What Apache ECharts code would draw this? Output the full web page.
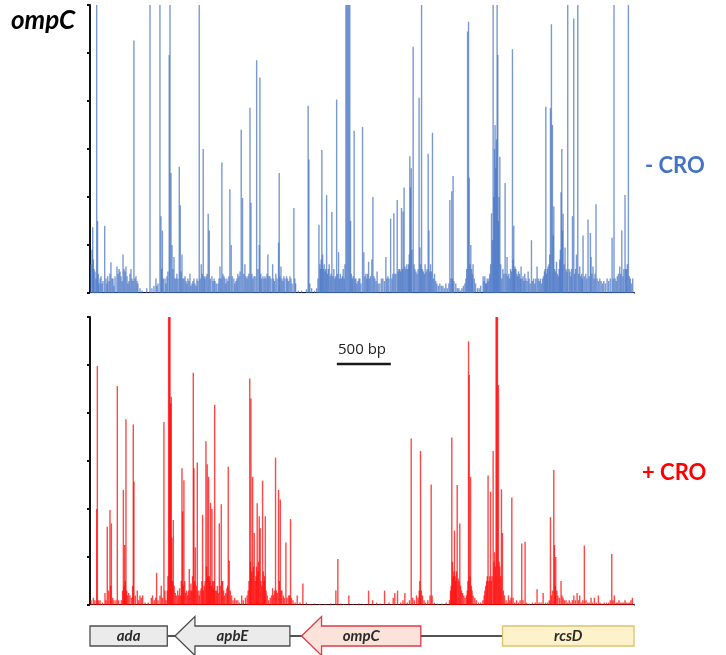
<!DOCTYPE html>
<html>
<head>
<meta charset="utf-8">
<script src="https://cdn.jsdelivr.net/npm/echarts@6/dist/echarts.min.js"></script>
<style>html,body{margin:0;padding:0;background:#fff}#c{width:726px;height:655px}</style>
</head>
<body>
<div id="c"></div>
<script>
// ---- DATA ----
// Region length (bp) and y scale (tick units)
const regionStart = 0;
const regionEnd = 5040;
const yMax = 6;
const yTicks = [0, 1, 2, 3, 4, 5, 6];

// - CRO insertion counts: [position (bp), count]
const minusCRO = [
[9,0.6],[19,0.9],[25,1.37],[31,0.7],[37,0.5],[46,0.45],[55,0.3],[62,6],[70,1.5],[76,0.4],[83,0.2],[93,0.3],[102,0.35],[111,0.2],[120,0.25],[136,1.4],[148,0.3],[157,0.2],[164,0.35],[176,0.25],[185,0.4],[194,0.64],[204,0.3],[213,0.3],[222,0.15],[232,0.35],[250,0.55],[260,0.4],[269,0.5],[278,0.45],[287,0.35],[297,0.25],[306,0.8],[315,0.5],[324,0.45],[333,0.55],[343,0.35],[352,0.2],[361,0.25],[370,0.4],[380,0.5],[389,0.3],[398,0.25],[407,5.26],[417,0.3],[426,0.35],[435,0.25],[444,0.2],[463,0.1],[482,0.05],[525,0.1],[556,6],[574,0.1],[593,0.15],[611,0.3],[620,0.15],[630,0.2],[648,6],[657,1.6],[664,0.5],[671,1.3],[680,0.3],[695,0.3],[704,0.2],[713,0.35],[722,0.45],[734,4.96],[741,6],[750,2.5],[760,1.0],[768,0.5],[778,0.75],[787,0.3],[796,0.3],[805,0.4],[815,0.3],[827,2.63],[836,1.83],[844,0.45],[852,0.8],[861,0.3],[870,0.3],[880,0.35],[889,0.25],[898,0.2],[907,0.3],[917,0.25],[926,0.4],[935,0.15],[945,0.2],[954,0.25],[963,0.3],[972,0.2],[982,0.15],[991,0.3],[1000,0.25],[1012,6],[1021,0.3],[1031,0.6],[1040,0.4],[1049,3.0],[1058,0.35],[1065,0.3],[1075,0.35],[1085,0.4],[1095,1.65],[1105,1.3],[1115,0.3],[1130,0.35],[1140,0.25],[1150,0.3],[1158,0.25],[1170,0.2],[1186,0.2],[1195,0.3],[1204,0.55],[1213,0.3],[1222,2.72],[1231,0.4],[1241,0.35],[1250,0.3],[1259,0.2],[1268,0.3],[1278,0.25],[1287,0.35],[1296,2.16],[1308,1.0],[1318,0.35],[1333,0.3],[1342,0.2],[1352,0.25],[1361,0.3],[1370,0.4],[1380,0.35],[1390,0.45],[1401,3.4],[1413,1.98],[1425,0.4],[1435,0.6],[1444,0.35],[1454,0.3],[1463,0.35],[1472,0.4],[1482,3.86],[1491,1.88],[1500,0.4],[1509,0.3],[1519,0.35],[1530,0.35],[1544,4.85],[1556,0.5],[1568,1.0],[1574,4.49],[1582,0.4],[1590,0.3],[1602,0.35],[1612,0.3],[1621,0.35],[1630,0.3],[1640,0.4],[1648,0.8],[1657,0.35],[1667,0.35],[1677,0.3],[1692,0.6],[1700,0.3],[1710,0.25],[1722,0.4],[1733,0.3],[1747,1.05],[1753,2.5],[1760,0.35],[1769,0.55],[1778,0.3],[1787,0.25],[1796,0.35],[1806,0.3],[1821,0.35],[1830,0.3],[1840,0.25],[1852,0.35],[1862,0.3],[1872,0.2],[1889,1.77],[1898,0.3],[1905,0.2],[1930,0.05],[1960,0.05],[2006,0.08],[2021,3.9],[2028,2.78],[2036,0.2],[2053,0.1],[2080,0.05],[2100,0.1],[2112,0.3],[2121,1.42],[2130,0.6],[2136,0.5],[2142,0.7],[2148,2.98],[2155,0.8],[2162,0.5],[2170,0.6],[2178,0.45],[2185,0.5],[2192,2.04],[2200,0.4],[2208,0.5],[2216,0.6],[2225,0.35],[2233,0.4],[2241,1.69],[2250,0.35],[2259,0.5],[2268,0.3],[2276,0.35],[2285,4.03],[2294,0.4],[2303,0.85],[2312,0.3],[2320,0.4],[2330,0.3],[2338,0.35],[2346,0.5],[2355,0.3],[2362,0.6],[2371,6],[2380,6],[2389,6],[2398,6],[2407,6],[2414,1.5],[2422,0.4],[2430,0.3],[2438,0.35],[2447,3.38],[2455,0.3],[2463,0.3],[2472,0.2],[2482,0.25],[2491,0.3],[2500,0.3],[2510,0.2],[2525,3.46],[2537,0.85],[2546,0.35],[2556,0.4],[2565,0.3],[2572,0.4],[2581,0.65],[2590,0.3],[2600,0.35],[2611,0.7],[2621,2.0],[2630,0.35],[2639,0.3],[2650,0.25],[2660,0.45],[2670,0.2],[2685,0.2],[2700,0.3],[2713,0.3],[2727,0.25],[2741,0.75],[2750,0.3],[2760,0.35],[2770,0.3],[2785,1.55],[2797,0.3],[2806,0.4],[2815,1.66],[2825,0.4],[2834,0.4],[2846,1.94],[2855,0.45],[2862,0.5],[2870,0.5],[2878,0.45],[2886,1.77],[2895,0.5],[2901,1.7],[2910,2.2],[2918,0.55],[2926,0.5],[2935,0.6],[2944,0.5],[2952,0.6],[2958,0.8],[2963,2.85],[2969,2.2],[2976,2.6],[2983,0.9],[2994,5.13],[3002,0.6],[3010,0.5],[3020,0.45],[3030,0.4],[3040,0.5],[3049,4.07],[3056,0.95],[3064,0.6],[3072,6],[3080,0.5],[3088,0.45],[3097,0.4],[3105,0.6],[3114,0.45],[3124,0.5],[3133,2.9],[3140,1.3],[3148,0.45],[3155,0.6],[3164,0.45],[3173,3.34],[3182,0.3],[3192,0.4],[3203,0.25],[3213,0.2],[3227,0.15],[3241,0.2],[3255,0.15],[3269,0.15],[3283,0.1],[3297,0.2],[3310,0.1],[3325,0.2],[3334,1.94],[3343,0.3],[3352,2.12],[3358,0.3],[3364,2.44],[3372,0.25],[3389,0.2],[3403,0.1],[3417,0.1],[3431,0.05],[3445,0.1],[3459,0.15],[3473,0.2],[3482,0.3],[3490,0.5],[3498,5.45],[3507,5.65],[3513,2.4],[3520,0.6],[3528,1.0],[3535,0.5],[3542,0.4],[3549,0.6],[3560,0.3],[3572,0.2],[3590,0.1],[3605,0.1],[3620,0.15],[3642,0.35],[3650,0.25],[3658,0.35],[3666,0.2],[3673,0.2],[3680,0.3],[3688,0.25],[3696,0.3],[3704,0.4],[3712,0.6],[3720,1.66],[3729,1.1],[3735,6],[3742,2.0],[3748,3.0],[3753,3.5],[3760,2.6],[3766,3.2],[3772,6],[3778,4.96],[3784,1.5],[3790,2.0],[3797,2.84],[3805,0.6],[3815,0.3],[3825,0.5],[3835,0.4],[3846,2.29],[3855,0.4],[3864,0.75],[3872,0.35],[3880,0.4],[3889,0.3],[3897,0.5],[3905,0.45],[3914,5.08],[3920,0.7],[3926,1.4],[3932,0.5],[3938,0.55],[3946,0.5],[3955,0.4],[3962,0.35],[3970,0.45],[3980,0.4],[3987,0.3],[3994,0.55],[4003,0.3],[4012,0.35],[4020,0.25],[4028,0.4],[4038,0.3],[4048,0.25],[4059,0.45],[4068,0.3],[4078,0.2],[4090,1.1],[4100,0.25],[4110,0.3],[4121,0.2],[4130,0.3],[4142,0.55],[4152,0.3],[4162,0.25],[4172,0.3],[4182,0.2],[4192,0.3],[4201,0.35],[4210,0.45],[4216,0.5],[4223,3.88],[4230,0.4],[4237,0.5],[4244,0.55],[4252,0.6],[4259,0.8],[4266,3.85],[4275,5.6],[4284,3.5],[4291,1.2],[4297,1.8],[4305,0.5],[4313,0.45],[4322,0.65],[4330,0.4],[4338,0.35],[4346,0.5],[4352,0.7],[4358,0.9],[4364,2.1],[4371,3.0],[4377,1.3],[4383,1.65],[4392,0.6],[4401,0.95],[4410,0.5],[4418,0.45],[4426,6],[4438,0.5],[4446,0.45],[4455,0.35],[4462,0.5],[4470,1.6],[4482,5.72],[4490,0.4],[4499,0.5],[4507,0.8],[4519,6],[4528,0.4],[4537,0.55],[4546,0.35],[4555,0.4],[4562,0.3],[4568,1.2],[4580,0.35],[4593,0.4],[4603,0.3],[4614,1.53],[4625,0.35],[4636,1.25],[4642,0.75],[4650,0.4],[4660,0.55],[4670,0.3],[4679,0.4],[4688,1.85],[4698,0.3],[4710,0.25],[4723,0.3],[4735,0.25],[4748,0.2],[4760,0.25],[4775,0.2],[4791,0.3],[4805,0.25],[4820,0.3],[4837,1.15],[4846,0.3],[4855,6],[4865,0.3],[4875,0.25],[4885,0.35],[4896,0.4],[4908,0.55],[4917,0.4],[4927,1.3],[4937,0.35],[4946,0.5],[4957,2.04],[4965,0.5],[4970,0.5],[4978,0.6],[4988,6],[4997,0.35],[5006,0.3],[5016,0.2],[5028,0.3]
];

// + CRO insertion counts: [position (bp), count]
const plusCRO = [
[10,0.1],[31,0.15],[45,0.1],[62,2.0],[68,4.98],[78,0.1],[93,0.1],[115,0.05],[139,0.25],[148,0.1],[160,1.63],[172,0.3],[185,1.98],[192,0.4],[198,1.7],[210,0.15],[222,0.1],[240,0.1],[253,4.56],[265,0.1],[290,0.1],[302,0.3],[309,2.4],[315,0.4],[321,1.25],[327,0.5],[333,3.87],[340,0.3],[346,0.2],[358,0.25],[370,0.2],[385,0.15],[395,0.4],[401,3.76],[407,2.57],[420,0.2],[438,0.3],[450,0.1],[463,0.2],[475,0.15],[488,0.2],[510,0.05],[540,0.05],[568,0.15],[580,0.2],[595,0.1],[608,0.15],[617,0.67],[630,0.1],[648,0.2],[660,0.4],[672,0.15],[685,3.81],[694,0.3],[704,0.1],[716,0.3],[722,0.6],[728,6],[735,6],[741,6],[747,4.2],[753,4.34],[759,1.4],[765,0.5],[772,1.77],[780,0.4],[790,0.25],[800,0.2],[812,0.3],[821,0.2],[830,0.35],[840,0.2],[846,0.5],[852,2.85],[858,1.95],[864,0.4],[870,2.6],[878,0.5],[885,0.25],[895,0.3],[905,0.2],[912,0.3],[920,0.75],[928,0.3],[935,0.45],[942,0.3],[950,0.6],[957,4.84],[963,2.85],[970,0.5],[976,1.2],[985,0.4],[994,2.97],[1002,0.3],[1012,0.2],[1020,0.3],[1030,0.35],[1037,0.5],[1043,1.88],[1050,0.3],[1058,0.4],[1066,0.5],[1074,3.41],[1080,0.8],[1086,2.93],[1093,0.6],[1099,2.67],[1105,0.6],[1111,0.5],[1117,2.13],[1124,0.4],[1130,2.0],[1137,0.5],[1143,0.35],[1149,0.5],[1155,4.17],[1163,0.3],[1173,0.3],[1180,0.4],[1188,0.25],[1198,1.7],[1206,0.4],[1216,2.1],[1222,0.5],[1229,0.5],[1238,0.3],[1247,0.2],[1258,0.25],[1268,0.35],[1275,0.4],[1281,2.88],[1290,0.92],[1300,0.3],[1312,0.2],[1325,0.1],[1340,0.15],[1355,0.1],[1370,0.1],[1385,0.05],[1405,0.2],[1420,0.1],[1440,0.15],[1455,0.2],[1465,0.3],[1473,0.5],[1480,4.72],[1487,0.9],[1491,4.3],[1498,0.7],[1507,2.67],[1514,0.8],[1522,1.5],[1530,0.5],[1537,0.6],[1543,0.8],[1549,2.12],[1556,0.7],[1562,0.9],[1568,1.85],[1577,1.6],[1584,0.5],[1592,0.4],[1599,2.59],[1606,0.7],[1612,0.5],[1618,0.6],[1624,1.85],[1632,0.3],[1642,0.2],[1655,0.1],[1670,0.15],[1682,0.2],[1692,0.35],[1700,0.2],[1710,0.3],[1719,3.07],[1726,0.3],[1735,0.25],[1747,2.4],[1755,0.5],[1763,2.2],[1770,0.3],[1778,0.3],[1790,0.2],[1800,0.15],[1815,1.3],[1825,0.15],[1840,0.2],[1850,0.2],[1858,1.79],[1866,0.15],[1880,0.1],[1900,0.05],[1920,0.2],[1945,0.05],[1972,0.45],[2006,0.05],[2040,0.02],[2080,0.03],[2130,0.02],[2180,0.02],[2230,0.03],[2278,0.3],[2296,0.96],[2320,0.03],[2350,0.02],[2398,0.2],[2440,0.02],[2490,0.03],[2540,0.02],[2581,0.3],[2618,0.1],[2655,0.05],[2690,0.03],[2729,0.3],[2770,0.05],[2809,0.15],[2824,0.25],[2849,0.3],[2880,0.05],[2900,0.1],[2917,0.25],[2940,0.05],[2960,0.1],[2976,3.47],[2990,0.15],[3005,0.1],[3025,0.2],[3040,0.15],[3050,0.3],[3056,0.5],[3062,3.21],[3070,0.3],[3080,0.2],[3095,0.1],[3110,0.05],[3130,0.1],[3150,0.2],[3161,2.51],[3170,0.2],[3190,0.05],[3220,0.03],[3260,0.03],[3300,0.05],[3330,0.1],[3340,0.3],[3346,0.4],[3352,3.49],[3358,0.9],[3365,0.6],[3371,0.7],[3377,1.55],[3383,0.6],[3389,0.5],[3395,0.7],[3402,2.5],[3411,0.55],[3418,0.5],[3426,1.7],[3434,0.4],[3442,0.3],[3452,0.25],[3463,0.2],[3475,0.15],[3488,0.2],[3495,0.3],[3501,0.5],[3507,5.49],[3513,4.79],[3520,0.6],[3526,2.67],[3533,0.4],[3540,0.3],[3549,0.2],[3565,0.15],[3580,0.1],[3600,0.05],[3620,0.05],[3640,0.1],[3652,0.2],[3658,0.3],[3666,0.4],[3675,0.5],[3681,0.6],[3688,2.7],[3695,0.5],[3703,0.6],[3711,2.36],[3718,0.5],[3725,0.6],[3735,3.21],[3742,0.9],[3748,1.1],[3755,0.8],[3762,6],[3769,6],[3775,6],[3784,4.58],[3790,0.9],[3797,0.8],[3804,0.6],[3812,2.41],[3821,1.5],[3830,0.3],[3840,0.2],[3855,0.1],[3867,0.05],[3877,0.2],[3890,0.1],[3900,0.15],[3908,2.24],[3920,0.15],[3935,0.05],[3951,0.1],[3970,0.05],[3985,0.1],[4000,1.28],[4012,0.1],[4031,1.32],[4045,0.05],[4070,0.03],[4100,0.05],[4125,0.05],[4142,0.33],[4160,0.05],[4180,0.05],[4198,0.25],[4220,0.05],[4240,0.05],[4255,0.1],[4266,1.83],[4275,0.2],[4285,0.3],[4297,2.81],[4303,1.25],[4310,0.4],[4315,1.0],[4325,0.3],[4335,0.2],[4350,0.15],[4364,0.5],[4373,0.2],[4383,0.15],[4395,0.1],[4410,0.1],[4425,0.05],[4440,0.1],[4455,0.05],[4470,0.1],[4482,0.2],[4497,0.1],[4513,0.25],[4525,0.1],[4537,0.2],[4550,0.05],[4565,0.1],[4580,1.24],[4595,0.1],[4610,0.05],[4625,0.05],[4642,0.15],[4655,0.05],[4673,0.15],[4690,0.05],[4710,0.2],[4725,0.05],[4745,0.03],[4765,0.05],[4785,0.05],[4805,0.05],[4820,0.1],[4834,1.06],[4845,0.1],[4858,0.2],[4875,0.05],[4888,0.05],[4901,0.1],[4915,0.05],[4930,0.05],[4944,0.05],[4957,0.1],[4970,0.05],[4985,0.05],[5000,0.05],[5012,0.1],[5025,0.15]
];

// Genes
const geneNames  = ['ada', 'apbE', 'ompC', 'rcsD'];
const geneStart  = [0, 787, 1960, 3822];
const geneEnd    = [716, 1852, 3065, 5040];
const geneShape  = ['box', 'left', 'left', 'box'];

// Scale bar
const scaleBarStart = 2287;
const scaleBarLength = 500;
const scaleBarLabel = '500 bp';
const scaleBarLevel = 5.02;

// Labels
const titleText = 'ompC';
const panelLabels = ['- CRO', '+ CRO'];

// ---- STYLE ----
const geneStyles = {
  ada:  {fill: '#ebebeb', stroke: '#4d4d4d'},
  apbE: {fill: '#ebebeb', stroke: '#4d4d4d'},
  ompC: {fill: '#fbe2da', stroke: '#e03a44'},
  rcsD: {fill: '#fdf2c9', stroke: '#dcc26e'}
};
const FONT = 'Lato, "Open Sans", sans-serif';

const chart = echarts.init(document.getElementById('c'), null, {renderer: 'canvas'});

function xAxisBase(gi) {
  return {
    type: 'value', gridIndex: gi, min: regionStart, max: regionEnd,
    axisLabel: {show: false}, axisTick: {show: false}, splitLine: {show: false},
    axisLine: {show: true, onZero: false, lineStyle: {color: '#111', width: 2}}
  };
}
function xAxisTop(gi) {
  return {
    type: 'value', gridIndex: gi, min: regionStart, max: regionEnd, position: 'top',
    axisLabel: {show: false}, axisTick: {show: false}, splitLine: {show: false},
    axisLine: {show: true, lineStyle: {color: '#efefef', width: 1}}
  };
}
function yAxisBase(gi) {
  return {
    type: 'value', gridIndex: gi, min: yTicks[0], max: yMax, interval: yTicks[1] - yTicks[0],
    axisLabel: {show: false}, splitLine: {show: false},
    axisTick: {show: true, inside: false, length: 3, lineStyle: {color: '#111', width: 2}},
    axisLine: {show: true, lineStyle: {color: '#111', width: 2}}
  };
}

function renderGene(params, api) {
  const i = params.dataIndex;
  const s = api.coord([api.value(0), 0.5]);
  const e = api.coord([api.value(1), 0.5]);
  const cy = s[1];
  const bh = 10, hh = 19.5, hl = 20;
  const name = geneNames[i];
  const st = geneStyles[name];
  let shape;
  if (geneShape[i] === 'left') {
    shape = {
      type: 'polygon',
      shape: {points: [[s[0], cy], [s[0] + hl, cy - hh], [s[0] + hl, cy - bh], [e[0], cy - bh],
                       [e[0], cy + bh], [s[0] + hl, cy + bh], [s[0] + hl, cy + hh]]},
      style: {fill: st.fill, stroke: st.stroke, lineWidth: 1.3}
    };
  } else {
    shape = {
      type: 'rect',
      shape: {x: s[0], y: cy - bh, width: e[0] - s[0], height: bh * 2},
      style: {fill: st.fill, stroke: st.stroke, lineWidth: 1.3}
    };
  }
  return {
    type: 'group',
    children: [shape, {
      type: 'text',
      style: {text: name, x: (s[0] + e[0]) / 2, y: cy, align: 'center', verticalAlign: 'middle',
              fill: '#2a2a2a', font: 'italic bold 15px ' + FONT}
    }]
  };
}

const option = {
  animation: false,
  backgroundColor: '#ffffff',
  grid: [
    {left: 90, top: 5, width: 544, height: 288},
    {left: 90, top: 317, width: 544, height: 288},
    {left: 90, top: 617, width: 544, height: 40}
  ],
  xAxis: [
    xAxisBase(0), xAxisBase(1),
    {type: 'value', gridIndex: 2, min: regionStart, max: regionEnd, show: false},
    xAxisTop(0), xAxisTop(1)
  ],
  yAxis: [
    yAxisBase(0), yAxisBase(1),
    {type: 'value', gridIndex: 2, min: 0, max: 1, show: false}
  ],
  series: [
    {
      type: 'bar', xAxisIndex: 0, yAxisIndex: 0, data: minusCRO,
      barWidth: 1.4, barGap: '-100%', clip: true,
      itemStyle: {color: '#4472c4', opacity: 0.72}
    },
    {
      type: 'bar', xAxisIndex: 1, yAxisIndex: 1, data: plusCRO,
      barWidth: 1.4, barGap: '-100%', clip: true,
      itemStyle: {color: '#ff0000', opacity: 0.72}
    },
    {
      type: 'line', xAxisIndex: 1, yAxisIndex: 1, symbol: 'none', silent: true, z: 5,
      data: [[scaleBarStart, scaleBarLevel], [scaleBarStart + scaleBarLength, scaleBarLevel]],
      lineStyle: {color: '#1a1a1a', width: 2.5}
    },
    {
      type: 'line', xAxisIndex: 2, yAxisIndex: 2, symbol: 'none', silent: true, z: 1,
      data: [[geneEnd[0], 0.5], [geneStart[3], 0.5]],
      lineStyle: {color: '#1a1a1a', width: 1.6}
    },
    {
      type: 'custom', xAxisIndex: 2, yAxisIndex: 2, z: 3, clip: false,
      renderItem: renderGene,
      data: geneNames.map((n, i) => [geneStart[i], geneEnd[i]])
    }
  ],
  graphic: [
    {type: 'text', left: 11, top: 8,
     style: {text: titleText, font: 'italic bold 26px ' + FONT, fill: '#000'}},
    {type: 'text', left: 645, top: 155,
     style: {text: panelLabels[0], font: 'bold 22px ' + FONT, fill: '#4472c4'}},
    {type: 'text', left: 642, top: 462,
     style: {text: panelLabels[1], font: 'bold 22px ' + FONT, fill: '#ff0000'}},
    {type: 'text', x: 362, y: 350,
     style: {text: scaleBarLabel, font: '15px "Open Sans", sans-serif', fill: '#222',
             align: 'center', verticalAlign: 'middle'}}
  ]
};
chart.setOption(option);
</script>
</body>
</html>
